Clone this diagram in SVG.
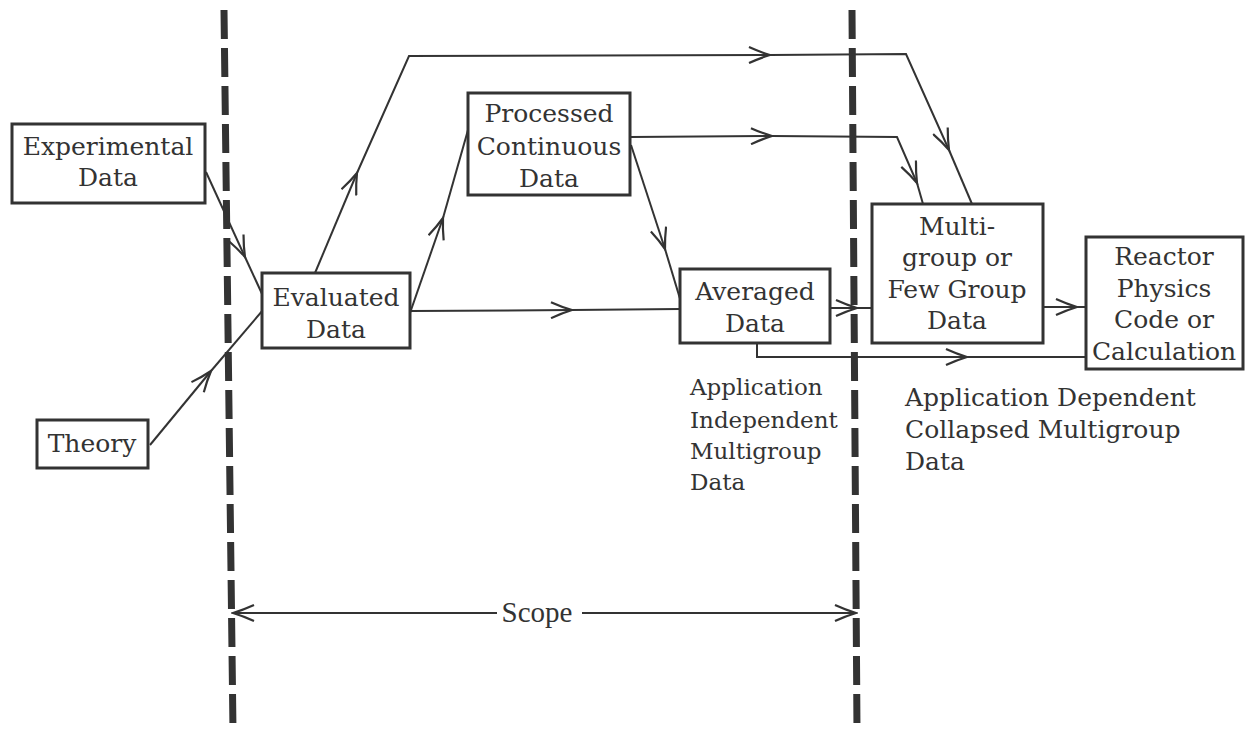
<svg xmlns="http://www.w3.org/2000/svg" width="1249" height="731" viewBox="0 0 1249 731">
<defs>
<style>
.box{fill:#fff;stroke:#333;stroke-width:3}
.t{font-family:"DejaVu Serif","Liberation Serif",serif;font-size:25px;fill:#333;text-anchor:middle}
.l{font-family:"DejaVu Serif","Liberation Serif",serif;font-size:25px;fill:#333}
.c{fill:none;stroke:#333;stroke-width:2}
.d{fill:none;stroke:#333;stroke-width:7;stroke-dasharray:29 9}
</style>
<marker id="a" viewBox="0 0 24 18" markerWidth="24" markerHeight="18" refX="22" refY="9" orient="auto" markerUnits="userSpaceOnUse">
<path d="M1,1 Q12,6 22,9 Q12,12 1,17" fill="none" stroke="#333" stroke-width="2.2"/>
</marker>
</defs>
<rect width="1249" height="731" fill="#fff"/>
<g id="scope-lines">
<line class="d" x1="224" y1="10" x2="233" y2="731"/>
<line class="d" x1="852" y1="10" x2="857" y2="731"/>
</g>
<g id="connectors">
<polyline class="c" points="206,172 245,257" marker-end="url(#a)"/><polyline class="c" points="245,257 263,296"/>
<polyline class="c" points="150,445 211,371" marker-end="url(#a)"/><polyline class="c" points="211,371 263,310"/>
<polyline class="c" points="315,273 357,173" marker-end="url(#a)"/><polyline class="c" points="357,173 409,56 770,55" marker-end="url(#a)"/><polyline class="c" points="770,55 906,54 949,150" marker-end="url(#a)"/><polyline class="c" points="949,150 972,204"/>
<polyline class="c" points="410,313 443,218" marker-end="url(#a)"/><polyline class="c" points="443,218 468,130"/>
<polyline class="c" points="410,311 572,310" marker-end="url(#a)"/><polyline class="c" points="572,310 680,309"/>
<polyline class="c" points="631,145 665,249" marker-end="url(#a)"/><polyline class="c" points="665,249 681,302"/>
<polyline class="c" points="631,137 772,136" marker-end="url(#a)"/><polyline class="c" points="772,136 897,137 917,183" marker-end="url(#a)"/><polyline class="c" points="917,183 923,204"/>
<polyline class="c" points="830,308 857,308" marker-end="url(#a)"/><polyline class="c" points="857,308 872,308"/>
<polyline class="c" points="757,343 757,357 967,357" marker-end="url(#a)"/><polyline class="c" points="967,357 1086,357"/>
<polyline class="c" points="1043,307 1077,307" marker-end="url(#a)"/><polyline class="c" points="1077,307 1086,307"/>
<polyline class="c" points="497,613 233,613" marker-end="url(#a)"/>
<polyline class="c" points="582,613 856,613" marker-end="url(#a)"/>
</g>
<g id="experimental">
<rect class="box" x="12" y="124" width="193" height="79"/>
<text class="t" x="108" y="155">Experimental</text>
<text class="t" x="108" y="186">Data</text>
</g>
<g id="theory">
<rect class="box" x="37" y="420" width="111" height="48"/>
<text class="t" x="92" y="452">Theory</text>
</g>
<g id="evaluated">
<rect class="box" x="262" y="273" width="148" height="75"/>
<text class="t" x="336" y="306">Evaluated</text>
<text class="t" x="336" y="338">Data</text>
</g>
<g id="processed">
<rect class="box" x="468" y="93" width="162" height="102"/>
<text class="t" x="549" y="122">Processed</text>
<text class="t" x="549" y="155">Continuous</text>
<text class="t" x="549" y="187">Data</text>
</g>
<g id="averaged">
<rect class="box" x="680" y="269" width="150" height="74"/>
<text class="t" x="755" y="300">Averaged</text>
<text class="t" x="755" y="332">Data</text>
</g>
<g id="multigroup">
<rect class="box" x="872" y="204" width="171" height="139"/>
<text class="t" x="957" y="235">Multi-</text>
<text class="t" x="957" y="266">group or</text>
<text class="t" x="957" y="298">Few Group</text>
<text class="t" x="957" y="329">Data</text>
</g>
<g id="reactor">
<rect class="box" x="1086" y="237" width="157" height="132"/>
<text class="t" x="1164" y="265">Reactor</text>
<text class="t" x="1164" y="297">Physics</text>
<text class="t" x="1164" y="328">Code or</text>
<text class="t" x="1164" y="360">Calculation</text>
</g>
<g id="labels">
<text class="l" x="690" y="395" style="font-size:23px">Application</text>
<text class="l" x="690" y="428" style="font-size:23px">Independent</text>
<text class="l" x="690" y="459" style="font-size:23px">Multigroup</text>
<text class="l" x="690" y="490" style="font-size:23px">Data</text>
<text class="l" x="905" y="406">Application Dependent</text>
<text class="l" x="905" y="438">Collapsed Multigroup</text>
<text class="l" x="905" y="470">Data</text>
<text x="537" y="622" style="font-family:'Liberation Serif',serif;font-size:29px;fill:#333;text-anchor:middle">Scope</text>
</g>
</svg>
